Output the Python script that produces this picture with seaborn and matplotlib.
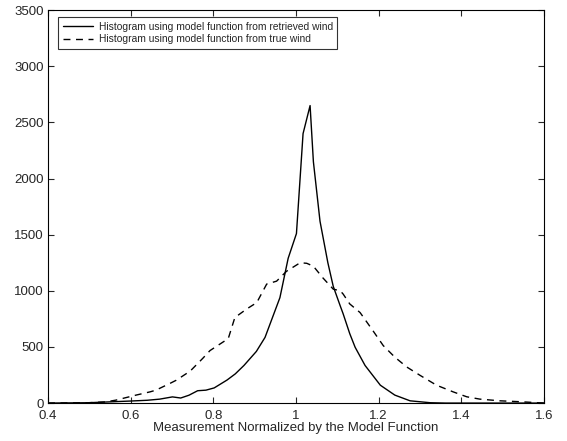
import matplotlib
matplotlib.use("Agg")
import matplotlib.pyplot as plt
import seaborn as sns
import pandas as pd

# curva con el viento recuperado (solida)
x_ret = [0.40, 0.497, 0.558, 0.599, 0.640, 0.670, 0.701, 0.721, 0.741, 0.762,
         0.782, 0.802, 0.833, 0.853, 0.874, 0.904, 0.925, 0.949, 0.961, 0.981,
         1.001, 1.017, 1.034, 1.042, 1.058, 1.077, 1.090, 1.107, 1.114, 1.130,
         1.143, 1.167, 1.204, 1.239, 1.276, 1.325, 1.362, 1.60]
y_ret = [0, 3, 12, 18, 25, 35, 55, 45, 70, 110,
         115, 135, 205, 260, 335, 460, 585, 821, 939, 1290,
         1510, 2400, 2650, 2150, 1620, 1250, 1040, 865, 795, 618,
         497, 335, 159, 71, 20, 3, 0, 0]

# curva con el viento verdadero (discontinua)
x_true = [0.40, 0.497, 0.538, 0.564, 0.613, 0.647, 0.661, 0.696, 0.710, 0.744,
          0.774, 0.792, 0.836, 0.852, 0.881, 0.905, 0.929, 0.953, 0.977, 1.010,
          1.026, 1.042, 1.065, 1.090, 1.107, 1.114, 1.130, 1.155, 1.186, 1.211,
          1.239, 1.268, 1.300, 1.340, 1.380, 1.413, 1.445, 1.494, 1.543, 1.576, 1.60]
y_true = [0, 3, 10, 26, 71, 100, 115, 177, 203, 285,
          397, 468, 574, 762, 839, 895, 1060, 1086, 1174, 1250,
          1245, 1219, 1115, 1015, 1000, 971, 883, 806, 645, 512,
          409, 321, 247, 159, 100, 56, 35, 20, 12, 5, 0]

x_ticks = [0.4, 0.6, 0.8, 1.0, 1.2, 1.4, 1.6]
x_ticklabels = ["0.4", "0.6", "0.8", "1", "1.2", "1.4", "1.6"]
y_ticks = [0, 500, 1000, 1500, 2000, 2500, 3000, 3500]

label_ret = "Histogram using model function from retrieved wind"
label_true = "Histogram using model function from true wind"

sns.set_style("ticks")
plt.rcParams["font.family"] = ["Liberation Sans", "DejaVu Sans"]
plt.rcParams["xtick.direction"] = "in"
plt.rcParams["ytick.direction"] = "in"

df_ret = pd.DataFrame({"x": x_ret, "y": y_ret})
df_true = pd.DataFrame({"x": x_true, "y": y_true})

fig = plt.figure(figsize=(5.67, 4.41), dpi=100)
ax = fig.add_axes([0.0847, 0.086, 0.8748, 0.891])

sns.lineplot(data=df_ret, x="x", y="y", ax=ax, color="black", linewidth=1.0,
             sort=False, label=label_ret)
sns.lineplot(data=df_true, x="x", y="y", ax=ax, color="black", linewidth=1.0,
             sort=False, label=label_true, dashes=False)
ax.lines[1].set_linestyle((0, (5, 4)))

ax.set_xlim(0.4, 1.6)
ax.set_ylim(0, 3500)
ax.set_xticks(x_ticks)
ax.set_xticklabels(x_ticklabels)
ax.set_yticks(y_ticks)
ax.tick_params(labelsize=9.5, top=True, right=True, length=4, width=0.8)
ax.tick_params(axis="x", pad=5)
ax.tick_params(axis="y", pad=3)
ax.set_xlabel("Measurement Normalized by the Model Function", fontsize=9.5, labelpad=0)
ax.set_ylabel("")
for s in ax.spines.values():
    s.set_linewidth(0.8)
    s.set_color("black")

leg = ax.legend(loc="upper left", fontsize=7.4, frameon=True, fancybox=False,
                handlelength=3.0, borderpad=0.45, labelspacing=0.25, handletextpad=0.5,
                bbox_to_anchor=(0.02, 0.982), borderaxespad=0)
leg.get_frame().set_edgecolor("black")
leg.get_frame().set_linewidth(0.8)

fig.savefig("out.png", dpi=100)
